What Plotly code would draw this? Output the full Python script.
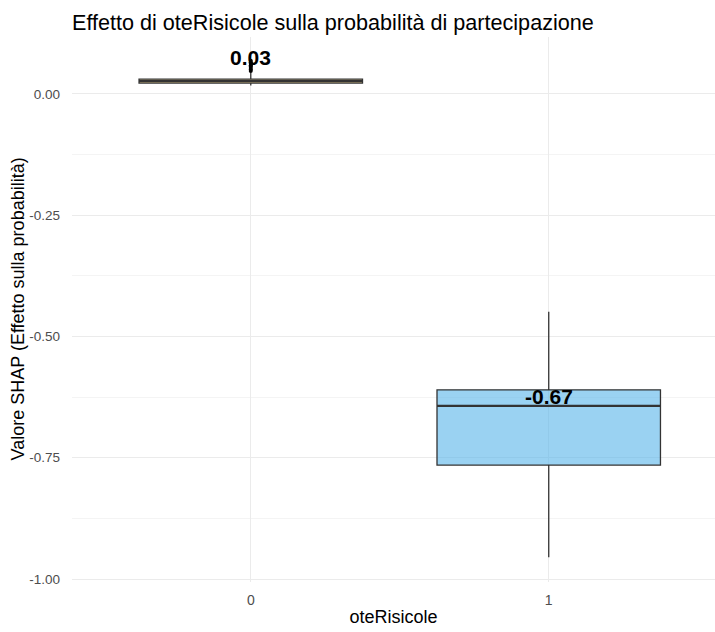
import plotly.graph_objects as go

# Summary statistics of SHAP values by oteRisicole level
categories = [0, 1]
q1_vals = [0.022, -0.765]
median_vals = [0.026, -0.643]
q3_vals = [0.030, -0.610]
lower_whisker = [0.017, -0.955]
upper_whisker = [0.044, -0.449]
mean_vals = [0.03, -0.67]
mean_labels = ["0.03", "-0.67"]
fill_colors = ["rgba(226,196,120,0.8)", "rgba(86,180,233,0.6)"]

# Outlying SHAP values for level 0
outliers_0 = [0.047, 0.050, 0.053, 0.056, 0.059, 0.062, 0.065, 0.068]

BOX_WIDTH = 0.75
EDGE = "#333333"
FONT = "Liberation Sans, Arial, sans-serif"
W, H = 715, 632
ML, MR, MT, MB = 72, 0, 37, 50

fig = go.Figure()

for i, c in enumerate(categories):
    fig.add_trace(go.Box(
        x=[c],
        q1=[q1_vals[i]], median=[median_vals[i]], q3=[q3_vals[i]],
        lowerfence=[lower_whisker[i]], upperfence=[upper_whisker[i]],
        width=BOX_WIDTH, whiskerwidth=0,
        fillcolor=fill_colors[i],
        line=dict(color=EDGE, width=1.3),
        boxpoints=False, hoverinfo="skip", showlegend=False,
    ))
    # thicker median line, as in ggplot
    fig.add_trace(go.Scatter(
        x=[c - BOX_WIDTH / 2, c + BOX_WIDTH / 2],
        y=[median_vals[i], median_vals[i]],
        mode="lines", line=dict(color=EDGE, width=2.2),
        hoverinfo="skip", showlegend=False,
    ))

fig.add_trace(go.Scatter(
    x=[categories[0]] * len(outliers_0), y=outliers_0,
    mode="markers", marker=dict(color="black", size=4),
    hoverinfo="skip", showlegend=False,
))

for i, c in enumerate(categories):
    fig.add_annotation(
        x=c, y=mean_vals[i], text=mean_labels[i],
        showarrow=False, yshift=22,
        font=dict(family=FONT, size=21, color="black", weight="bold"),
    )

# y-axis title placed as a rotated annotation
fig.add_annotation(
    text="Valore SHAP (Effetto sulla probabilità)",
    xref="paper", yref="paper",
    x=-(ML - 17) / (W - ML - MR), y=0.5,
    xanchor="center", yanchor="middle",
    textangle=-90, showarrow=False,
    font=dict(family=FONT, size=18, color="black"),
)

fig.update_layout(
    width=W, height=H,
    margin=dict(l=ML, r=MR, t=MT, b=MB),
    paper_bgcolor="white", plot_bgcolor="white",
    font=dict(family=FONT),
    title=dict(
        text="Effetto di oteRisicole sulla probabilità di partecipazione",
        x=0, xref="paper", xanchor="left",
        y=1 - 22 / H, yref="container", yanchor="middle",
        font=dict(size=21.6, color="black", family=FONT),
    ),
    xaxis=dict(
        range=[-0.6, 1.558],
        tickvals=categories, ticktext=[str(c) for c in categories],
        showgrid=True, gridcolor="#EBEBEB", gridwidth=1,
        zeroline=False, showline=False, ticks="",
        ticklabelstandoff=8,
        tickfont=dict(size=14, color="#4D4D4D"),
        title=dict(text="oteRisicole", font=dict(size=18, color="black"), standoff=3),
    ),
    yaxis=dict(
        range=[-1.006, 0.117],
        tickvals=[0, -0.25, -0.5, -0.75, -1.0],
        ticktext=["0.00", "-0.25", "-0.50", "-0.75", "-1.00"],
        showgrid=True, gridcolor="#EBEBEB", gridwidth=1,
        minor=dict(dtick=0.25, tick0=0.125, showgrid=True, gridcolor="#F4F4F4", gridwidth=1),
        zeroline=False, showline=False, ticks="",
        ticklabelstandoff=11,
        tickfont=dict(size=13.5, color="#4D4D4D"),
    ),
)

fig.write_html("out.html")
